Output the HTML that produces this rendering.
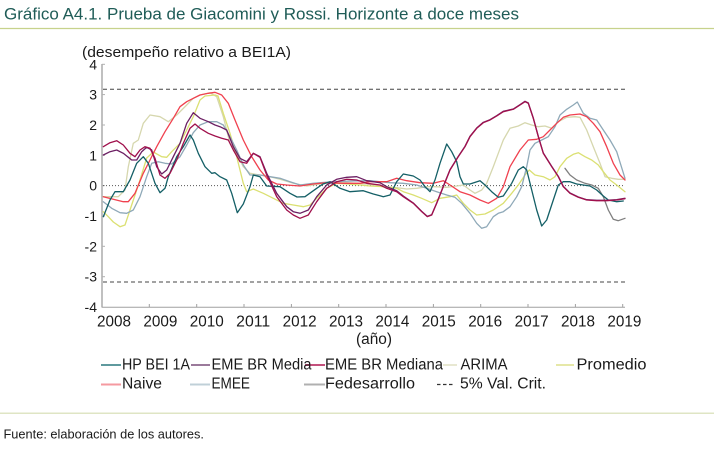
<!DOCTYPE html>
<html><head><meta charset="utf-8"><style>
html,body{margin:0;padding:0;background:#fff;}
svg{display:block;font-family:"Liberation Sans",sans-serif;}
</style></head><body>
<svg width="714" height="451" viewBox="0 0 714 451" xmlns="http://www.w3.org/2000/svg">
<rect width="714" height="451" fill="#fff"/>
<text x="4" y="19.5" font-size="16.5" fill="#1f5c57" textLength="515" lengthAdjust="spacingAndGlyphs">Gráfico A4.1. Prueba de Giacomini y Rossi. Horizonte a doce meses</text>
<line x1="0" y1="28.5" x2="714" y2="28.5" stroke="#c7d28c" stroke-width="1.3"/>
<text x="82" y="57" font-size="15" fill="#1a1a1a" textLength="209" lengthAdjust="spacingAndGlyphs">(desempeño relativo a BEI1A)</text>

<!-- axes -->
<line x1="102" y1="64" x2="102" y2="307.5" stroke="#b0b0b0" stroke-width="1.6"/>
<g stroke="#b0b0b0" stroke-width="1">
<line x1="102" y1="64.3" x2="105" y2="64.3"/><line x1="102" y1="94.6" x2="105" y2="94.6"/><line x1="102" y1="125" x2="105" y2="125"/><line x1="102" y1="155.3" x2="105" y2="155.3"/><line x1="102" y1="185.6" x2="105" y2="185.6"/><line x1="102" y1="216" x2="105" y2="216"/><line x1="102" y1="246.3" x2="105" y2="246.3"/><line x1="102" y1="276.7" x2="105" y2="276.7"/>
</g>
<line x1="102" y1="307.3" x2="625" y2="307.3" stroke="#a0a0a0" stroke-width="1"/>
<g stroke="#a0a0a0" stroke-width="1">
<line x1="149.3" y1="307" x2="149.3" y2="304"/><line x1="196.7" y1="307" x2="196.7" y2="304"/><line x1="244" y1="307" x2="244" y2="304"/><line x1="291.4" y1="307" x2="291.4" y2="304"/><line x1="338.7" y1="307" x2="338.7" y2="304"/><line x1="386" y1="307" x2="386" y2="304"/><line x1="433.4" y1="307" x2="433.4" y2="304"/><line x1="480.7" y1="307" x2="480.7" y2="304"/><line x1="528" y1="307" x2="528" y2="304"/><line x1="575.4" y1="307" x2="575.4" y2="304"/><line x1="622.7" y1="307" x2="622.7" y2="304"/>
</g>
<g font-size="14" fill="#1a1a1a" text-anchor="end">
<text x="97" y="69.3">4</text><text x="97" y="99.6">3</text><text x="97" y="130">2</text><text x="97" y="160.3">1</text><text x="97" y="190.6">0</text><text x="97" y="221">-1</text><text x="97" y="251.3">-2</text><text x="97" y="281.7">-3</text><text x="97" y="312">-4</text>
</g>
<g font-size="15.5" fill="#1a1a1a">
<text x="97" y="326.7" textLength="34" lengthAdjust="spacingAndGlyphs">2008</text>
<text x="143.4" y="326.7" textLength="34" lengthAdjust="spacingAndGlyphs">2009</text>
<text x="189.8" y="326.7" textLength="34" lengthAdjust="spacingAndGlyphs">2010</text>
<text x="236.2" y="326.7" textLength="34" lengthAdjust="spacingAndGlyphs">2011</text>
<text x="282.6" y="326.7" textLength="34" lengthAdjust="spacingAndGlyphs">2012</text>
<text x="329" y="326.7" textLength="34" lengthAdjust="spacingAndGlyphs">2013</text>
<text x="375.4" y="326.7" textLength="34" lengthAdjust="spacingAndGlyphs">2014</text>
<text x="421.8" y="326.7" textLength="34" lengthAdjust="spacingAndGlyphs">2015</text>
<text x="468.2" y="326.7" textLength="34" lengthAdjust="spacingAndGlyphs">2016</text>
<text x="514.6" y="326.7" textLength="34" lengthAdjust="spacingAndGlyphs">2017</text>
<text x="561" y="326.7" textLength="34" lengthAdjust="spacingAndGlyphs">2018</text>
<text x="607.4" y="326.7" textLength="34" lengthAdjust="spacingAndGlyphs">2019</text>
<text x="356" y="344" textLength="36" lengthAdjust="spacingAndGlyphs">(año)</text>
</g>

<!-- reference lines -->
<line x1="103" y1="89.3" x2="625" y2="89.3" stroke="#444" stroke-width="1" stroke-dasharray="4,3"/>
<line x1="103" y1="282" x2="625" y2="282" stroke="#444" stroke-width="1" stroke-dasharray="4,3"/>
<line x1="103" y1="185.6" x2="625" y2="185.6" stroke="#555" stroke-width="1" stroke-dasharray="1,2"/>

<g fill="none" stroke-width="1.3" stroke-linejoin="round" stroke-linecap="round">
<!-- ARIMA -->
<polyline stroke="#d6d7ae" points="103.3,196.7 111.7,196.7 118.3,196.7 125,190 128.3,166.7 133.3,143.3 138.3,140 143.3,123.3 150,115 160,116.7 168.3,121.7 176.7,115 186.7,105 193.3,98.3 200,95 210,92.7 216.7,96.7 223.3,116.7 230,143.3 236.7,153.3 243.3,166.7 250,173.3 260,175 270,176.7 280,179.3 293.3,183.3 306.7,186 320,184 333.3,182.7 346.7,182.7 366.7,184 386.7,186.7 396.7,187.7 406.7,189 416.7,188.3 426.7,186.7 435,186.7 446.7,187.3 456.7,186 463.3,185 470,190 475,193.3 481.7,190 486.7,183.3 493.3,166.7 498.3,153.3 503.3,140 510,128.3 518.3,126 525,122.7 531.7,125 538.3,126.7 545,126 551.7,128.3 558.3,121.7 566.7,117.3 575,116.7 580,117.3 586.7,130 593.3,146.7 600,163.3 605,176.7 611.7,178.3 618.3,179.3 625,179.3"/>
<!-- Promedio -->
<polyline stroke="#dbe072" points="103.3,211.7 108.3,216.7 113.3,222 120,226.7 125,225 130,210 135,195 140,180 146.7,158 153.3,152 161.7,156.7 166.7,157.3 171.7,151.7 180,143.3 186.7,130 193.3,116.7 200,100 205,96 215,95 218,96 223.3,113.3 230,133.3 236.7,156.7 243.3,183.3 246.7,191.7 253.3,189 263.3,193.3 273.3,198.3 283.3,203.3 293.3,205 303.3,206.7 310,205 316.7,198.3 326.7,188.3 336.7,183.3 346.7,184 360,185 370,186 383.3,186.7 396.7,188.3 403.3,191.7 413.3,195 421.7,198.3 431.7,202.7 440,198.3 450,196.7 456.7,195 463.3,203.3 470,210 476.7,215 485,214 493.3,210 503.3,203.3 511.7,193.3 518.3,185 525,175 529.3,170 535,175 543.3,176.7 550,180 555,176.7 560,166.7 566.7,158.3 573.3,154.3 578.3,152.7 585,156.7 591.7,160 598.3,165 603.3,171.7 610,180 616.7,185 625,191.7"/>
<!-- EMEE -->
<polyline stroke="#8fa9b8" points="103.3,201.7 111.7,208.3 120,212.7 126.7,213.3 133.3,210 140,196.7 146.7,176.7 151.7,163.3 158.3,161.7 165,163.3 171.7,164 180,156.7 186.7,145 193.3,132.7 200,125 208.3,121.7 216.7,121.7 223.3,125 230,136.7 236.7,150 243.3,165 250,175 260,175 270,176.7 280,178.3 290,181.7 300,185 313.3,183.3 333.3,181.7 353.3,181 370,180.7 390,182.7 403.3,183.3 416.7,185 426.7,188.3 436.7,191.7 446.7,195 455,197.3 461.7,203.3 470,213.3 476.7,223.3 481.7,228.3 486.7,226.7 493.3,216.7 498.3,213.3 503.3,211.7 510,206.7 516.7,196.7 521.7,186.7 526.7,166.7 530,150 535,143.3 541.7,140 548.3,136.7 555,126.7 560,115 566.7,109.3 573.3,105 577.3,102 583.3,113.3 590,118.3 596.7,120 603.3,130 610,140 616.7,151.7 625,178.3"/>
<!-- Naive -->
<polyline stroke="#f0414f" points="103.3,196.7 113.3,199.3 123.3,201.7 128.3,201.7 135,193.3 143.3,173.3 150,160 156.7,146.7 165,131.7 173.3,118.3 180,106.7 186.7,101.7 193.3,98.3 200,95 208.3,93.3 215,92.3 221.7,95 228.3,103.3 235,120 243.3,140 251.7,156.7 260,170 268.3,180 276.7,184 286.7,185 300,186 313.3,184 326.7,182.7 343.3,183.3 360,183.3 370,181.7 386.7,181.7 396.7,178.3 406.7,180.7 420,182.7 433.3,183.3 443.3,180.7 450,185 460,191.7 470,195 480,200 488.3,203.3 496.7,198.3 503.3,186.7 510,166.7 520,150 528.3,140 536.7,139.3 543.3,136.7 550,130 556.7,123.3 563.3,117.3 570,115 580,114 586.7,116.7 593.3,123.3 600,131.7 606.7,146.7 613.3,163.3 620,175 625,180"/>
<!-- Fedesarrollo -->
<polyline stroke="#7f7f7f" points="565,168.3 570,175 576.7,180 585,183.3 591.7,185 598.3,188.3 603.3,196.7 608.3,210 613.3,219.3 618.3,220.7 625,218.3"/>
<!-- HP BEI 1A -->
<polyline stroke="#145f66" points="103.3,216.7 110,200 115,191.7 123.3,191.7 130,180 136.7,163.3 143.3,156.7 148.3,163.3 155,183.3 160,192.7 165,188.3 168.3,176.7 176.7,156.7 183.3,146.7 190,135 193.3,140 198.3,153.3 205,166.7 211.7,173.3 215,172.7 220,176.7 226.7,180 231.7,193.3 237.3,212.7 243.3,204 250,186.7 253.3,175 260,176.7 266.7,186 280,186.7 290,193.3 297,197 305,196.7 316.7,188.3 323,184 330,181.7 340,188.3 350,191.7 363.3,190.7 373.3,194 383.3,196.7 390,195 396.7,181.7 403.3,174 413.3,176 420,180 425,186.7 430,191.7 435,180 440,163.3 446.7,144 451.7,151.7 456.7,161.7 460,176.7 463.3,184 470,184 480,180.7 485,185 491.7,191.7 498.3,197.3 503.3,196 511.7,183.3 518.3,170 523.3,166.7 526.7,170 531.7,190 536.7,210 541.7,226 546.7,220 553.3,200 558.3,185 563.3,181.7 570,181.7 576.7,184 583.3,185 590,186 596.7,190 603.3,196 608.3,200 616.7,201.7 623.3,201"/>
<!-- EME BR Media -->
<polyline stroke="#6c1f63" points="103.3,155 110,151.7 116.7,150 123.3,153.3 131.7,160 136.7,160 141.7,151.7 146.7,147.3 151.7,150 156.7,166.7 161.7,174 166.7,170 173.3,156.7 180,143.3 186.7,123.3 193.3,112.7 200,118.3 208.3,121.7 215,125 220,126.7 226.7,130 233.3,146.7 240,158.3 246.7,161.7 253.3,153.3 260,156.7 266.7,173.3 276.7,193.3 286.7,206.7 293.3,211.7 300,213.3 308.3,210 316.7,196.7 326.7,185 336.7,179.3 346.7,177.3 356.7,176.7 366.7,180.7 380,182.7 386.7,186.7 396.7,190.7 403.3,196 413.3,203 421.7,211.3 427.3,216.3 431.7,214.7 436.7,203 443.3,186.3 450,169.7 458.3,156.3 465,146.3 470,136.3 476.7,128 483.3,122.3 490,119.7 496.7,115.7 503.3,111.3 513.3,109 520,104.7 525,101.3 528.3,103 533.3,118 538.3,136.3 543.3,153 551.7,166.3 558.3,176.3 563.3,186.3 570,193 578.3,197 586.7,199.7 596.7,200.3 606.7,200.3 616.7,199.7 625,198.3"/>
<!-- EME BR Mediana -->
<polyline stroke="#a0104c" points="103.3,146.7 110,142.7 116.7,140.7 123.3,145 130,153.3 135,156.7 140,150 145,146.7 150,148.3 155,158.3 160,175 165,178.3 170,173.3 176.7,160 183.3,143.3 190,128.3 195,124 200,128.3 208.3,133.3 215,136 221.7,138.3 228.3,140 233.3,150 240,161.7 246.7,163.3 253.3,153.3 260,157.3 266.7,175 276.7,196.7 286.7,210 293.3,215 300,218.3 308.3,215 316.7,201.7 326.7,188.3 336.7,181.7 346.7,179.3 356.7,180 366.7,183.3 380,185 386.7,188.3 396.7,191.7 403.3,196.7 413.3,203.3 421.7,211.7 427.3,216.7 431.7,215 436.7,203.3 443.3,186.7 450,170 458.3,156.7 465,146.7 470,136.7 476.7,128.3 483.3,122.7 490,120 496.7,116 503.3,111.7 513.3,109.3 520,105 525,101.7 528.3,103.3 533.3,118.3 538.3,136.7 543.3,153.3 551.7,166.7 558.3,176.7 563.3,186.7 570,193.3 578.3,197.3 586.7,200 596.7,200.7 606.7,200.7 616.7,200 625,198.7"/>
</g>

<!-- legend -->
<g stroke-width="2">
<line x1="101" y1="365" x2="121" y2="365" stroke="#5f9a9e"/>
<line x1="191" y1="365" x2="210" y2="365" stroke="#9b7a9b"/>
<line x1="305" y1="365" x2="325" y2="365" stroke="#c4507c"/>
<line x1="443" y1="365" x2="457" y2="365" stroke="#e8e8d2"/>
<line x1="556" y1="365" x2="574" y2="365" stroke="#e6e8a8"/>
<line x1="101" y1="384.5" x2="121" y2="384.5" stroke="#f59aa0"/>
<line x1="190" y1="384.5" x2="210" y2="384.5" stroke="#c0d0d8"/>
<line x1="304" y1="384.5" x2="325" y2="384.5" stroke="#b0b0b0"/>
</g>
<line x1="437" y1="384.5" x2="453" y2="384.5" stroke="#333" stroke-width="1.2" stroke-dasharray="3.5,2.5"/>
<g font-size="15.5" fill="#1a1a1a">
<text x="122" y="369.5" textLength="68" lengthAdjust="spacingAndGlyphs">HP BEI 1A</text>
<text x="211.5" y="369.5" textLength="100" lengthAdjust="spacingAndGlyphs">EME BR Media</text>
<text x="325" y="369.5" textLength="118" lengthAdjust="spacingAndGlyphs">EME BR Mediana</text>
<text x="460.5" y="369.5" textLength="47" lengthAdjust="spacingAndGlyphs">ARIMA</text>
<text x="576.5" y="369.5" textLength="70" lengthAdjust="spacingAndGlyphs">Promedio</text>
<text x="122" y="388.5" textLength="40" lengthAdjust="spacingAndGlyphs">Naive</text>
<text x="211.5" y="388.5" textLength="38.5" lengthAdjust="spacingAndGlyphs">EMEE</text>
<text x="325" y="388.5" textLength="90" lengthAdjust="spacingAndGlyphs">Fedesarrollo</text>
<text x="460" y="388.5" textLength="86" lengthAdjust="spacingAndGlyphs">5% Val. Crit.</text>
</g>

<line x1="0" y1="413.3" x2="714" y2="413.3" stroke="#dfe5c4" stroke-width="1.5"/>
<text x="3.5" y="438.3" font-size="13" fill="#1a1a1a" textLength="200.5" lengthAdjust="spacingAndGlyphs">Fuente: elaboración de los autores.</text>
</svg>
</body></html>
